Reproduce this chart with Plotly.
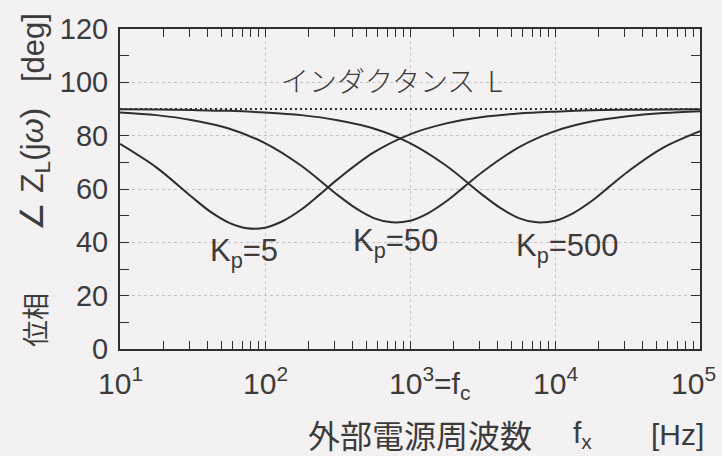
import plotly.graph_objects as go

# Phase of Z_L(jω) [deg] vs. external source frequency [Hz]
freq_kp5 = [10, 17.8, 31.6, 42.2, 56.2, 75.0, 100, 133, 178, 237, 316, 562,
            1000, 1780, 3160, 5620, 10000, 17800, 31600, 56200, 100000]
phase_kp5 = [76.9, 68.1, 56.8, 51.4, 47.4, 45.3, 45.5, 48.0, 52.3, 57.8, 63.6, 73.7,
             80.5, 84.6, 87.0, 88.3, 89.0, 89.5, 89.7, 89.8, 89.9]

freq_kp50 = [10, 17.8, 31.6, 56.2, 100, 178, 316, 422, 562, 750, 1000, 1330,
             1780, 2370, 3160, 5620, 10000, 17800, 31600, 56200, 100000]
phase_kp50 = [88.7, 87.7, 85.8, 82.7, 77.2, 68.7, 57.8, 52.8, 49.1, 47.5, 48.1, 50.9,
              55.4, 60.9, 66.4, 75.6, 81.7, 85.3, 87.3, 88.5, 89.2]

freq_kp500 = [10, 17.8, 31.6, 56.2, 100, 178, 316, 562, 1000, 1780, 3160, 4220,
              5620, 7500, 10000, 13300, 17800, 23700, 31600, 56200, 100000]
phase_kp500 = [89.9, 89.8, 89.6, 89.3, 88.7, 87.7, 85.8, 82.7, 77.2, 68.7, 57.8, 52.8,
               49.1, 47.5, 48.1, 50.9, 55.4, 60.9, 66.4, 75.6, 81.7]

# ideal inductance L
freq_L = [10, 100000]
phase_L = [90, 90]

x_tick_vals = [1, 2, 3, 4, 5]
x_tick_text = ["10<sup>1</sup>", "10<sup>2</sup>", "10<sup>3</sup>=f<sub>c</sub>",
               "10<sup>4</sup>", "10<sup>5</sup>"]
y_tick_vals = [0, 20, 40, 60, 80, 100, 120]

curve_labels = ["K<sub>p</sub>=5", "K<sub>p</sub>=50", "K<sub>p</sub>=500"]
label_pos_x = [1.855, 2.897, 4.083]
label_pos_y = [36.0, 39.6, 37.8]

BG = "#f4f1f3"
INK = "#2e2e2e"
TXT = "#3c3c3c"
NUM_FONT = "Liberation Sans Narrow, Liberation Sans, Arial, sans-serif"
SANS = "Liberation Sans, Arial, sans-serif"
CJK = "Noto Sans CJK JP, sans-serif"

# plot area in pixels
PL, PR, PT, PB = 120, 700, 29, 349


def px_x(px):
    return (px - PL) / (PR - PL)


def px_y(py):
    return (PB - py) / (PB - PT)


# minor log ticks 2..9 within each decade
minor_x = [m * 10 ** d for d in range(1, 5) for m in range(2, 10)]

fig = go.Figure()

fig.add_trace(go.Scatter(x=freq_L, y=phase_L, mode="lines",
                         line=dict(color=INK, width=2, dash="2px,3px"),
                         hoverinfo="skip"))
for fx, ph in [(freq_kp5, phase_kp5), (freq_kp50, phase_kp50), (freq_kp500, phase_kp500)]:
    fig.add_trace(go.Scatter(x=fx, y=ph, mode="lines",
                             line=dict(color=INK, width=2, shape="spline", smoothing=0.9)))

annotations = []
# x tick labels
for v, t in zip(x_tick_vals, x_tick_text):
    a = dict(x=v, y=0, xref="x", yref="paper", text=t, showarrow=False,
             xanchor="center", yanchor="top", yshift=-11,
             font=dict(family=NUM_FONT, size=30, color=TXT))
    if v == 3:
        a.update(xanchor="left", xshift=-23)
    if v == 5:
        a.update(xanchor="right", xshift=18)
    annotations.append(a)

# curve labels
for t, lx, ly in zip(curve_labels, label_pos_x, label_pos_y):
    annotations.append(dict(x=lx, y=ly, xref="x", yref="y", text=t, showarrow=False,
                            xanchor="center", yanchor="middle",
                            font=dict(family=SANS, size=31, color=TXT)))

annotations.append(dict(x=2.87, y=101.0, xref="x", yref="y", text="インダクタンス  L",
                        showarrow=False, xanchor="center", yanchor="middle",
                        font=dict(family=CJK, size=28, color=TXT, weight=300)))

# y axis title pieces (rotated)
for txt, cy, fam, sz in [("位相", 320, CJK, 27),
                         ("∠ Z<sub>L</sub>(j<i>ω</i>)", 170, SANS, 32),
                         ("[deg]", 48, SANS, 31)]:
    annotations.append(dict(x=px_x(34), y=px_y(cy), xref="paper", yref="paper", text=txt,
                            textangle=-90, showarrow=False,
                            xanchor="center", yanchor="middle",
                            font=dict(family=fam, size=sz, color=TXT)))

# x axis title pieces
for txt, cx, fam, sz in [("外部電源周波数", 420, CJK, 32),
                         ("f<sub>x</sub>", 582, SANS, 30),
                         ("[Hz]", 677, SANS, 30)]:
    annotations.append(dict(x=px_x(cx), y=px_y(434), xref="paper", yref="paper", text=txt,
                            showarrow=False, xanchor="center", yanchor="middle",
                            font=dict(family=fam, size=sz, color=TXT)))

fig.update_layout(
    width=722, height=456,
    margin=dict(l=PL, r=722 - PR, t=PT, b=456 - PB),
    paper_bgcolor=BG, plot_bgcolor=BG,
    showlegend=False,
    annotations=annotations,
)

fig.update_xaxes(
    type="log", range=[1, 5], dtick=1,
    showticklabels=False,
    ticks="inside", ticklen=8, tickcolor=INK, tickwidth=1,
    minor=dict(tickmode="array", tickvals=minor_x, ticks="inside", ticklen=8,
               tickcolor=INK, tickwidth=1, showgrid=False),
    showgrid=True, gridcolor="#c4c4c4", griddash="dot", gridwidth=1,
    showline=True, linecolor=INK, linewidth=2, mirror="allticks",
    zeroline=False,
)
fig.update_yaxes(
    range=[0, 120], tickvals=y_tick_vals,
    ticks="inside", ticklen=9, tickcolor=INK, tickwidth=1,
    minor=dict(dtick=10, ticks="inside", ticklen=9, tickcolor=INK, tickwidth=1, showgrid=False),
    showgrid=True, gridcolor="#c4c4c4", griddash="dot", gridwidth=1,
    showline=True, linecolor=INK, linewidth=2, mirror="allticks",
    zeroline=False,
    tickfont=dict(family=NUM_FONT, size=29, color=TXT),
    ticklabelstandoff=4,
)

fig.write_html("out.html")
